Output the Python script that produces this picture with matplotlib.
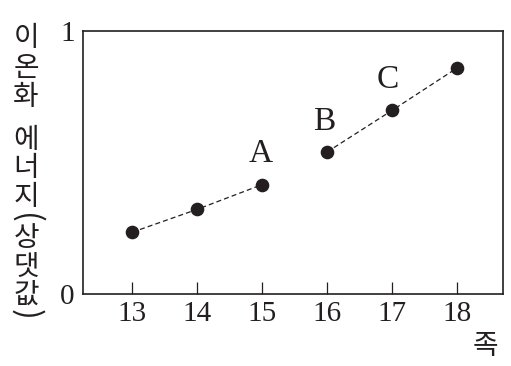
import numpy as np
import matplotlib
matplotlib.use("Agg")
from matplotlib import pyplot as plt

# group number vs relative ionization energy, two dashed segments
group_left = [13, 14, 15]
energy_left = [0.235, 0.322, 0.416]
group_right = [16, 17, 18]
energy_right = [0.540, 0.698, 0.859]

point_labels = ["A", "B", "C"]
labelled_groups = [15, 16, 17]
labelled_energy = [0.416, 0.540, 0.698]

x_ticks = [13, 14, 15, 16, 17, 18]
y_ticks = [0, 1]
y_label_chars = ["이", "온", "화", "에", "너", "지", "(", "상", "댓", "값", ")"]
x_label = "족"

INK = "#231f20"
SERIF = "Liberation Serif"
KO = ["Noto Sans CJK KR", "DejaVu Sans"]

fig = plt.figure(figsize=(5.11, 3.66), dpi=100)
W, H = 511, 366
ax = fig.add_axes([83 / W, 1 - 294 / H, 420 / W, 263 / H])

ax.plot(group_left, energy_left, "--", color=INK, lw=0.9, dashes=(4, 2.5))
ax.plot(group_right, energy_right, "--", color=INK, lw=0.9, dashes=(4, 2.5))
ax.plot(group_left + group_right, energy_left + energy_right, "o",
        color=INK, markersize=8.8, zorder=3)

# letters sit just above (and a touch left of) their points
offsets = [(-1, 11), (-2, 11), (-3, 11)]
for lab, gx, gy, (dx, dy) in zip(point_labels, labelled_groups, labelled_energy, offsets):
    ax.annotate(lab, (gx, gy), xytext=(dx, dy), textcoords="offset points",
                ha="center", va="bottom", fontsize=24, family=SERIF, color=INK)

ax.set_xlim(12.24, 18.71)
ax.set_ylim(0, 1)
ax.set_xticks(x_ticks)
ax.set_xticklabels([str(t) for t in x_ticks], family=SERIF, fontsize=21, color=INK)
ax.set_yticks(y_ticks)
ax.set_yticklabels([str(t) for t in y_ticks], family=SERIF, fontsize=21, color=INK)
ax.tick_params(axis="x", direction="in", length=9, width=0.9, color=INK, pad=5)
ax.tick_params(axis="y", length=0, pad=6)
for sp in ax.spines.values():
    sp.set_linewidth(1.2)
    sp.set_color(INK)

# vertical y label, one upright character per line; parens turned sideways
y_centres = [38, 68, 97, 140, 168, 197, 218, 238, 267, 295, 314]
for ch, yc in zip(y_label_chars, y_centres):
    rot = -90 if ch in "()" else 0
    fig.text(26 / W, 1 - yc / H, ch, ha="center", va="center", rotation=rot,
             fontsize=20 if rot == 0 else 23, family=KO, color=INK)

fig.text(485 / W, 1 - 346 / H, x_label, ha="center", va="center",
         fontsize=20, family=KO, color=INK)

fig.savefig("out.png", dpi=100)
